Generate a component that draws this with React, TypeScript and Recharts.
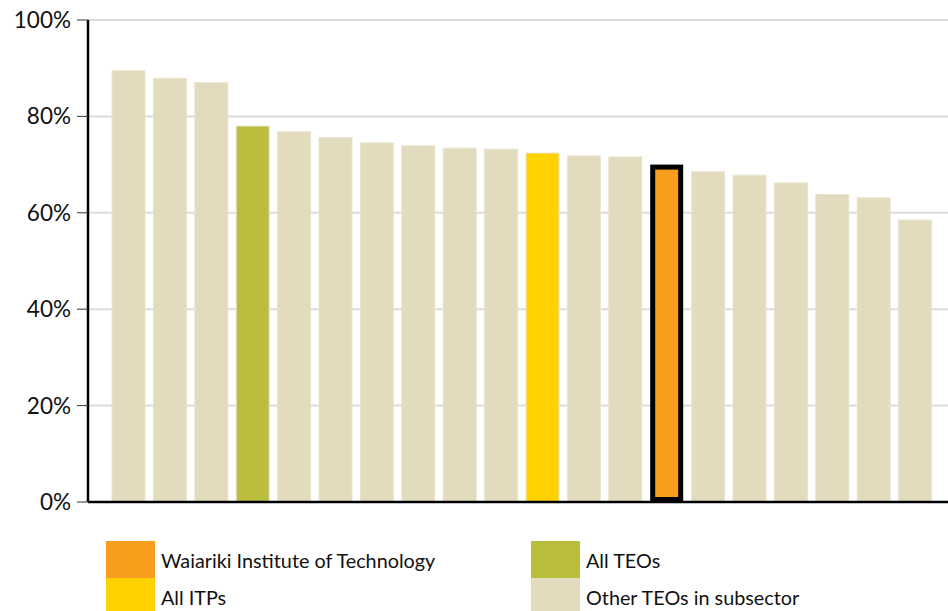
import React from 'react';
import { BarChart, Bar, XAxis, YAxis, CartesianGrid, Cell, Legend } from 'recharts';

const categories = [
  'TEO 1', 'TEO 2', 'TEO 3', 'All TEOs', 'TEO 5', 'TEO 6', 'TEO 7', 'TEO 8', 'TEO 9', 'TEO 10',
  'All ITPs', 'TEO 12', 'TEO 13', 'Waiariki Institute of Technology', 'TEO 15', 'TEO 16', 'TEO 17',
  'TEO 18', 'TEO 19', 'TEO 20',
];
const values = [
  89.5, 87.9, 87.0, 78.0, 76.8, 75.6, 74.5, 73.9, 73.4, 73.2,
  72.4, 71.8, 71.6, 70.0, 68.5, 67.8, 66.2, 63.8, 63.1, 58.5,
];
const groups = [
  'other', 'other', 'other', 'teos', 'other', 'other', 'other', 'other', 'other', 'other',
  'itps', 'other', 'other', 'waiariki', 'other', 'other', 'other', 'other', 'other', 'other',
];
const yTicks = [0, 20, 40, 60, 80, 100];

const legendItems = [
  { key: 'waiariki', label: 'Waiariki Institute of Technology' },
  { key: 'teos', label: 'All TEOs' },
  { key: 'itps', label: 'All ITPs' },
  { key: 'other', label: 'Other TEOs in subsector' },
];

const COLORS: Record<string, string> = {
  waiariki: '#F99D1C',
  teos: '#BBBD3C',
  itps: '#FFD200',
  other: '#E3DBBD',
};

const data = categories.map((name, i) => ({ name, value: values[i], group: groups[i] }));

const FONT = 'Lato, "Open Sans", sans-serif';

// highlighted bar: black border drawn inside the bar bounds
const BarShape = (props: any) => {
  const { x, y, width, height, payload } = props;
  const fill = COLORS[payload.group];
  if (payload.group === 'waiariki') {
    const sw = 5;
    return (
      <g>
        <rect x={x + sw / 2} y={y + sw / 2} width={width - sw} height={height - sw}
          fill={fill} stroke="#000" strokeWidth={sw} />
      </g>
    );
  }
  return <rect x={x} y={y} width={width} height={height} fill={fill} stroke="#EAE4CE" strokeWidth={1} />;
};

const LegendContent = () => (
  <div style={{ position: 'relative', width: 948, height: 70, fontFamily: FONT }}>
    {legendItems.map((item, i) => {
      const col = i % 2 === 0 ? 0 : 1;
      const row = Math.floor(i / 2);
      return (
        <div key={item.key} style={{
          position: 'absolute',
          left: col === 0 ? 106 : 531,
          top: row * 37,
          display: 'flex',
          alignItems: 'center',
          height: 37,
        }}>
          <div style={{ width: 49, height: 37, background: COLORS[item.key] }} />
          <span style={{ marginLeft: 6, fontSize: 19.8, color: '#111' }}>{item.label}</span>
        </div>
      );
    })}
  </div>
);

export default function App() {
  return (
    <div style={{ position: 'absolute', left: 0, top: 0, background: '#fff' }}>
      <BarChart
        width={948}
        height={611}
        data={data}
        margin={{ top: 20, right: 0, bottom: 0, left: 0 }}
        barCategoryGap={0}
      >
        <CartesianGrid vertical={false} stroke="#DCDCDC" strokeWidth={2} />
        <XAxis
          dataKey="name"
          tick={false}
          tickLine={false}
          height={39}
          padding={{ left: 20, right: 12 }}
          axisLine={{ stroke: '#000', strokeWidth: 2.5 }}
        />
        <YAxis
          width={88}
          domain={[0, 100]}
          ticks={yTicks}
          interval={0}
          tickFormatter={(v) => `${v}%`}
          tickSize={11}
          tickMargin={6}
          tickLine={{ stroke: '#333', strokeWidth: 1 }}
          axisLine={{ stroke: '#000', strokeWidth: 2.5 }}
          tick={{ fill: '#111', fontSize: 22.5, fontFamily: FONT }}
        />
        <Legend
          verticalAlign="bottom"
          content={<LegendContent />}
          wrapperStyle={{ left: 0, top: 541, bottom: 'auto', width: 948, height: 70 }}
        />
        <Bar dataKey="value" barSize={33} isAnimationActive={false} shape={<BarShape />}>
          {data.map((d) => (
            <Cell key={d.name} fill={COLORS[d.group]} />
          ))}
        </Bar>
      </BarChart>
    </div>
  );
}
